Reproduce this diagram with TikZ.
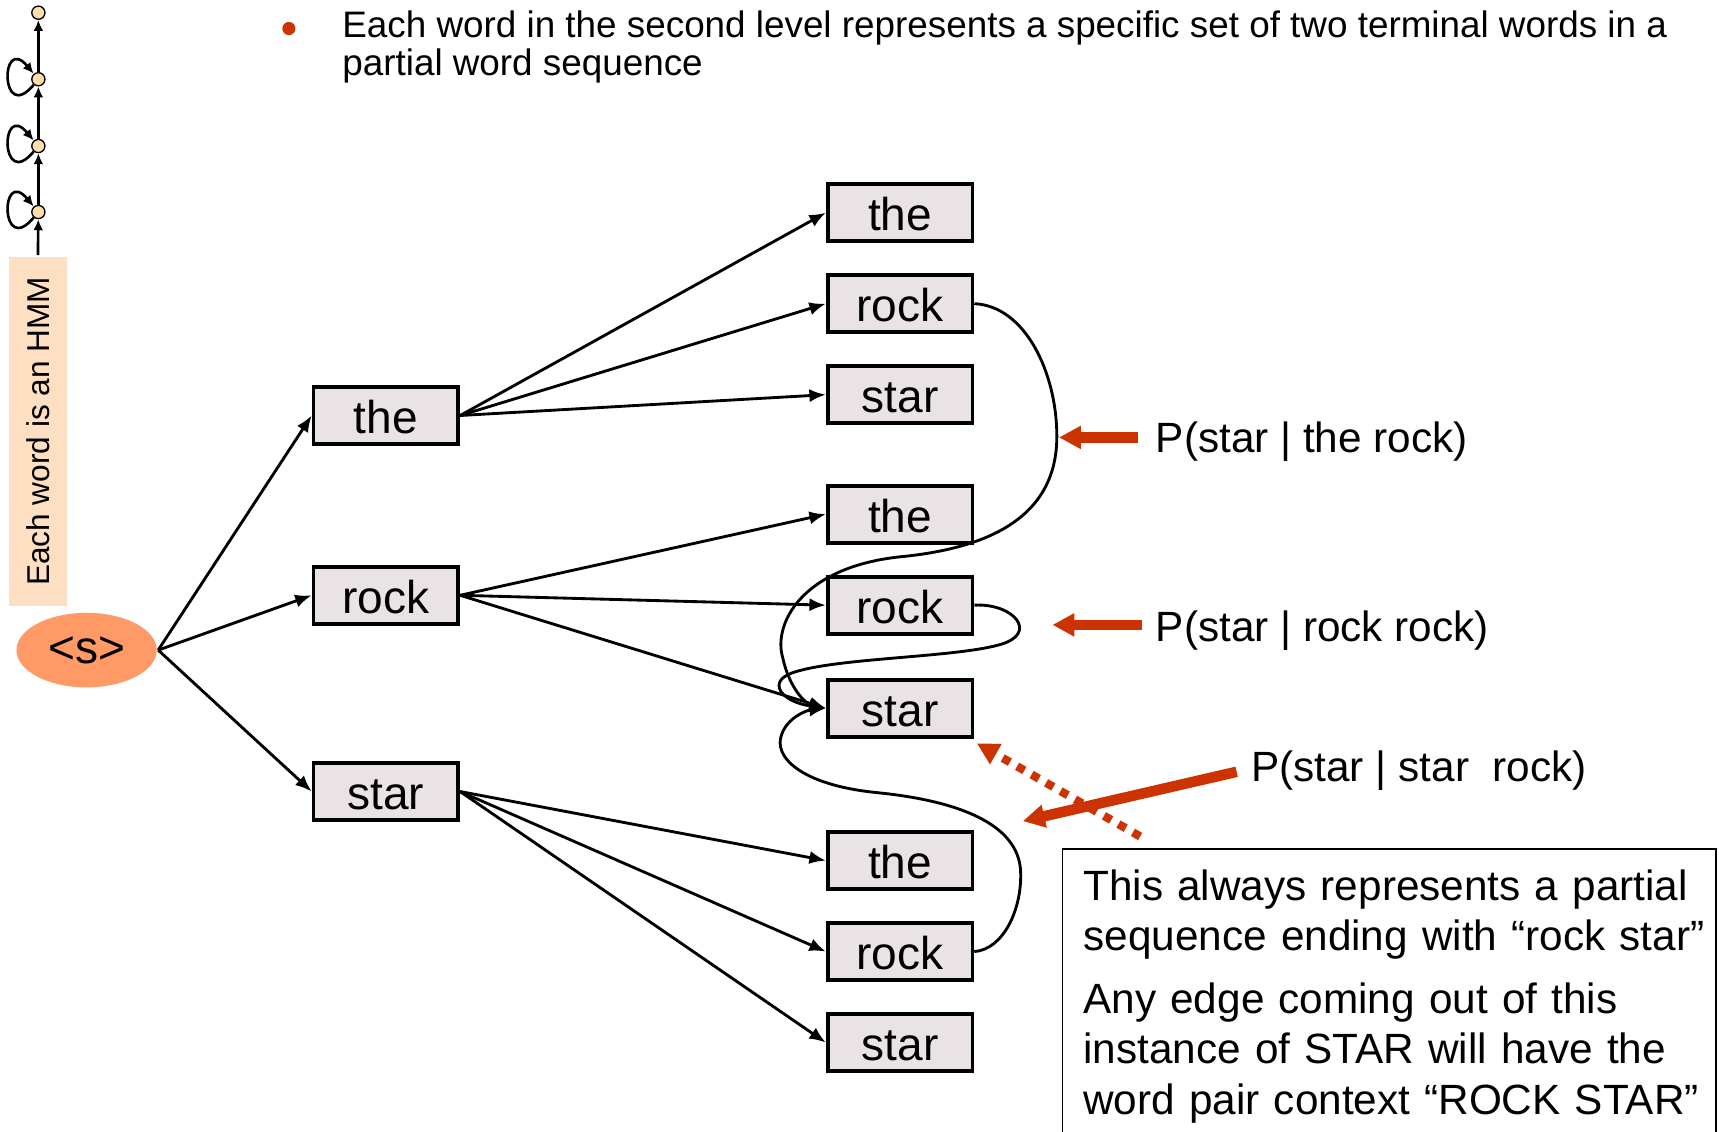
\documentclass[tikz,border=0pt]{standalone}
\usepackage{fontspec}
\setmainfont{Liberation Sans}
\usetikzlibrary{arrows,arrows.meta,shapes.geometric}

\definecolor{wordfill}{RGB}{233,227,230}
\definecolor{startfill}{RGB}{255,153,102}
\definecolor{hmmfill}{RGB}{255,223,193}
\definecolor{statefill}{RGB}{255,221,170}
\definecolor{brick}{RGB}{204,51,0}

\begin{document}
\begin{tikzpicture}[x=0.5pt,y=-0.5pt,>={Latex[length=7.5pt,width=6pt]},line width=1.3pt,
    word box/.style={rectangle,draw,fill=wordfill,line width=1.7pt,minimum width=66pt,minimum height=26pt,inner sep=0pt,text height=16.5pt,text depth=0pt,font=\fontsize{21}{25}\selectfont},
    start node/.style={ellipse,fill=startfill,minimum width=64pt,minimum height=34pt,inner sep=0pt,font=\fontsize{21}{25}\selectfont},
    hmm state/.style={circle,draw,fill=statefill,line width=0.6pt,minimum size=6pt,inner sep=0pt},
    hmm edge/.style={-{Latex[length=5pt,width=4.5pt]},line width=1.2pt},
    prob label/.style={anchor=west,inner sep=0pt,font=\fontsize{19.3}{23}\selectfont},
    red arrow/.style={draw=brick,line width=4.8pt,-{Triangle[length=10pt,width=10pt]}}]

  \useasboundingbox (0,0) rectangle (1568,1032.5);

  \fill[brick] (263.5,26) circle (3pt);
  \node[anchor=north west,inner sep=0pt,align=left,font=\fontsize{16.8}{17}\selectfont] (bullet) at (311,9)
    {Each word in the second level represents a specific set of two terminal words in a\\partial word sequence};

  \node[rotate=90,fill=hmmfill,minimum width=159.5pt,minimum height=26.2pt,inner sep=0pt,font=\fontsize{14.4}{17}\selectfont] (hmm) at (34.6,393.5) {Each word is an HMM};
  \node[hmm state] (s0) at (35,193.4) {};
  \node[hmm state] (s1) at (35,133.2) {};
  \node[hmm state] (s2) at (35,72.3) {};
  \node[hmm state] (s3) at (35,11.6) {};
  \path[hmm edge] (hmm.east) edge (s0)
        (s0) edge (s1)
        (s1) edge (s2)
        (s2) edge (s3)
        (s0) edge[out=230,in=130,min distance=24pt] (s0)
        (s1) edge[out=230,in=130,min distance=24pt] (s1)
        (s2) edge[out=230,in=130,min distance=24pt] (s2);

  \node[start node] (s) at (79,593) {<s>};
  \node[word box] (the)  at (352,379) {the};
  \node[word box] (rock) at (352,543) {rock};
  \node[word box] (star) at (352,722) {star};
  \node[word box] (the-the)   at (821,194) {the};
  \node[word box] (the-rock)  at (821,277) {rock};
  \node[word box] (the-star)  at (821,360) {star};
  \node[word box] (rock-the)  at (821,469) {the};
  \node[word box] (rock-rock) at (821,552) {rock};
  \node[word box] (rock-star) at (821,646) {star};
  \node[word box] (star-the)  at (821,785) {the};
  \node[word box] (star-rock) at (821,868) {rock};
  \node[word box] (star-star) at (821,951) {star};

  \path[->] (s.east) edge (the.west)
        (s.east) edge (rock.west)
        (s.east) edge (star.west)
        (the.east) edge (the-the.west)
        (the.east) edge (the-rock.west)
        (the.east) edge (the-star.west)
        (rock.east) edge (rock-the.west)
        (rock.east) edge (rock-rock.west)
        (rock.east) edge (rock-star.west)
        (star.east) edge (star-the.west)
        (star.east) edge (star-rock.west)
        (star.east) edge (star-star.west);

  \draw[->] (the-rock.east) .. controls (935,279) and (964,340) .. (964,398)
            .. controls (964,470) and (905,500) .. (820,508)
            .. controls (730,518) and (705,570) .. (714,600)
            .. controls (720,628) and (735,642) .. (rock-star.west);
  \draw[->] (rock-rock.east) .. controls (925,550) and (948,578) .. (912,588)
            .. controls (870,600) and (760,600) .. (722,614)
            .. controls (700,622) and (712,640) .. (rock-star.west);
  \draw[->] (star-rock.east) .. controls (915,866) and (932,830) .. (931,796)
            .. controls (930,750) and (870,730) .. (800,723)
            .. controls (730,716) and (705,690) .. (713,670)
            .. controls (718,655) and (735,648) .. (rock-star.west);

  \node[prob label] (p-the-rock)  at (1053,403) {P(star | the rock)};
  \node[prob label] (p-rock-rock) at (1053,575) {P(star | rock rock)};
  \node[prob label] (p-star-rock) at (1140,703) {P(star | star\ \ rock)};
  \coordinate (tail1) at (1038,399);
  \coordinate (tip1)  at (966,399);
  \coordinate (tail2) at (1042,570);
  \coordinate (tip2)  at (960,570);
  \coordinate (tail3) at (1128,704);
  \coordinate (tip3)  at (933,749);
  \coordinate (tail4) at (1040,763);
  \coordinate (tip4)  at (891,678);
  \draw[red arrow] (tail1) -- (tip1);
  \draw[red arrow] (tail2) -- (tip2);
  \draw[red arrow] (tail3) -- (tip3);
  \draw[red arrow,line width=3.8pt,dash pattern=on 3.8pt off 3.8pt] (tail4) -- (tip4);

  \node[draw,line width=0.75pt,anchor=north west,inner sep=9.5pt,text width=279pt,align=left,font=\fontsize{19.3}{23}\selectfont] (note) at (968.5,773.5)
    {\mbox{This always represents a partial}\\
     \mbox{sequence ending with “rock star”}\\[5.5pt]
     \mbox{Any edge coming out of this}\\
     \mbox{instance of STAR will have the}\\
     \mbox{word pair context “ROCK STAR”}};
\end{tikzpicture}
\end{document}
